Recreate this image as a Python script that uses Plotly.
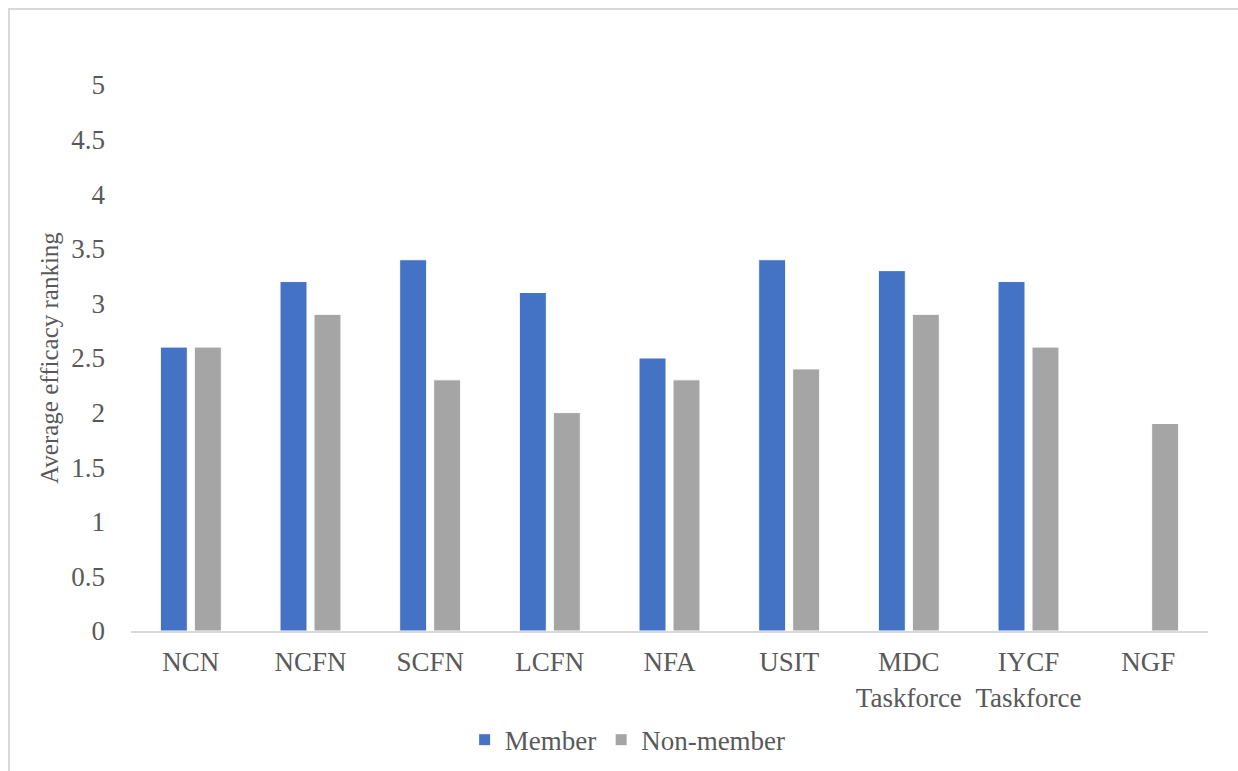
import plotly.graph_objects as go

# Network / platform names shown on the x axis
categories = ["NCN", "NCFN", "SCFN", "LCFN", "NFA", "USIT",
              "MDC<br>Taskforce", "IYCF<br>Taskforce", "NGF"]

# Average efficacy ranking by membership status
member = [2.6, 3.2, 3.4, 3.1, 2.5, 3.4, 3.3, 3.2, None]
non_member = [2.6, 2.9, 2.3, 2.0, 2.3, 2.4, 2.9, 2.6, 1.9]

y_ticks = [0, 0.5, 1, 1.5, 2, 2.5, 3, 3.5, 4, 4.5, 5]
y_tick_text = ["0", "0.5", "1", "1.5", "2", "2.5", "3", "3.5", "4", "4.5", "5"]

FONT = "Liberation Serif"
TEXT = "#595959"

fig = go.Figure()
fig.add_bar(x=categories, y=member, name="Member",
            marker=dict(color="#4472C4", line=dict(color="#ffffff", width=1)))
fig.add_bar(x=categories, y=non_member, name="Non-member",
            marker=dict(color="#A5A5A5", line=dict(color="#ffffff", width=1)))

fig.update_layout(
    width=1238, height=771,
    margin=dict(l=131, r=30, t=85, b=140, autoexpand=False),
    paper_bgcolor="white", plot_bgcolor="white",
    barmode="group", bargap=0.432, bargroupgap=0.206,
    font=dict(family=FONT, color=TEXT, size=27),
    showlegend=True,
    legend=dict(orientation="h", x=0.507, xanchor="center", xref="container",
                y=0.04, yanchor="middle", yref="container",
                font=dict(family=FONT, size=27, color=TEXT),
                itemwidth=30, traceorder="normal"),
    xaxis=dict(showgrid=False, showline=True, linecolor="#D9D9D9", linewidth=2,
               ticks="", tickfont=dict(family=FONT, size=27, color=TEXT),
               ticklabelstandoff=6, fixedrange=True, automargin=False),
    yaxis=dict(range=[0, 5], tickvals=y_ticks, ticktext=y_tick_text,
               showgrid=False, zeroline=False, showline=False, ticks="",
               tickfont=dict(family=FONT, size=27, color=TEXT),
               ticklabelstandoff=25, automargin=False,
               title=dict(text="Average efficacy ranking", standoff=5,
                          font=dict(family=FONT, size=25, color=TEXT)),
               fixedrange=True),
    shapes=[
        # chart frame (top and left edges visible)
        dict(type="line", xref="paper", yref="paper",
             x0=(8 - 131) / 1077, x1=(1300 - 131) / 1077,
             y0=(631 - 9) / 546, y1=(631 - 9) / 546,
             line=dict(color="#D9D9D9", width=2)),
        dict(type="line", xref="paper", yref="paper",
             x0=(9 - 131) / 1077, x1=(9 - 131) / 1077,
             y0=(631 - 9) / 546, y1=(631 - 800) / 546,
             line=dict(color="#D9D9D9", width=2)),
    ],
)

fig.write_html("out.html")
